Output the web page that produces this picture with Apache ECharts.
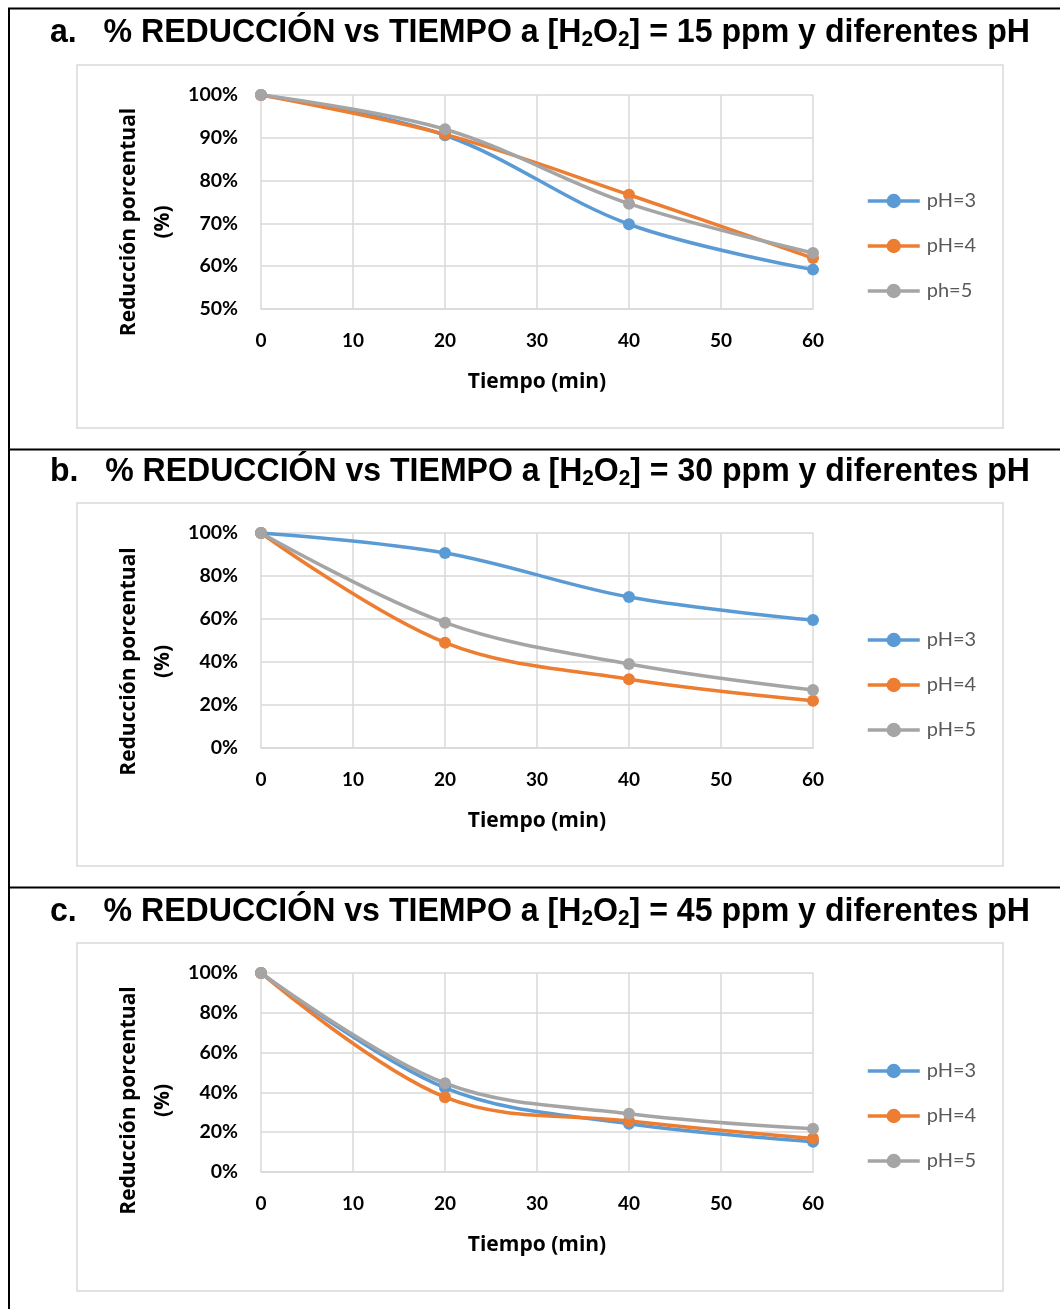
<!DOCTYPE html>
<html><head><meta charset="utf-8">
<script src="https://cdn.jsdelivr.net/npm/echarts@6/dist/echarts.min.js"></script>
<style>html,body{margin:0;padding:0;background:#fff}#c{width:1060px;height:1309px}</style>
</head><body><div id="c"></div>
<script>
// ---- data ----
const times = [0, 20, 40, 60];
const panelLetters = ['a.', 'b.', 'c.'];
const ppmValues = [15, 30, 45];
const legendNamesA = ['pH=3', 'pH=4', 'ph=5'];
const legendNamesBC = ['pH=3', 'pH=4', 'pH=5'];
const a_pH3 = [100, 90.6, 69.8, 59.2];
const a_pH4 = [100, 90.8, 76.7, 61.9];
const a_pH5 = [100, 92.0, 74.6, 63.1];
const b_pH3 = [100, 90.7, 70.2, 59.5];
const b_pH4 = [100, 49.0, 32.0, 22.0];
const b_pH5 = [100, 58.3, 39.1, 27.0];
const c_pH3 = [100, 42.3, 24.2, 15.2];
const c_pH4 = [100, 37.6, 25.6, 16.8];
const c_pH5 = [100, 44.6, 29.3, 21.7];
const yMinA = 50, yMaxA = 100, yStepA = 10;
const yMinBC = 0, yMaxBC = 100, yStepBC = 20;
const xMin = 0, xMax = 60, xStep = 10;
const xTitle = 'Tiempo (min)';
const yTitle = 'Reducción porcentual\n(%)';

// ---- layout / style ----
const colors = ['#5B9BD5', '#ED7D31', '#A5A5A5'];
const panels = [
  {grid: {left: 261, top: 95, width: 552, height: 214}, frame: [77, 65, 926, 363], titleY: 33, divider: null,
   ymin: yMinA, ymax: yMaxA, ystep: yStepA, data: [a_pH3, a_pH4, a_pH5], names: legendNamesA, legendTop: 191, yTitleDy: 20},
  {grid: {left: 261, top: 533, width: 552, height: 215}, frame: [77, 503, 926, 363], titleY: 472, divider: 449.5,
   ymin: yMinBC, ymax: yMaxBC, ystep: yStepBC, data: [b_pH3, b_pH4, b_pH5], names: legendNamesBC, legendTop: 630, yTitleDy: 21},
  {grid: {left: 261, top: 973, width: 552, height: 199}, frame: [77, 943, 926, 348], titleY: 912, divider: 887.5,
   ymin: yMinBC, ymax: yMaxBC, ystep: yStepBC, data: [c_pH3, c_pH4, c_pH5], names: legendNamesBC, legendTop: 1061, yTitleDy: 28}
];

const labelFont = 'Lato, "Open Sans", sans-serif';
const titleAxisFont = '"Open Sans", Lato, sans-serif';
const titleFont = '"Liberation Sans", Arial, sans-serif';

// measure title width to emulate condensed font
const cv = document.createElement('canvas').getContext('2d');
function w(txt, size) { cv.font = 'bold ' + size + 'px ' + titleFont; return cv.measureText(txt).width; }

const grid = [], xAxis = [], yAxis = [], series = [], legend = [], graphic = [];

// outer black lines
graphic.push({type: 'line', shape: {x1: 8, y1: 8.5, x2: 1060, y2: 8.5}, style: {stroke: '#000', lineWidth: 2}, z: 10});
graphic.push({type: 'line', shape: {x1: 9, y1: 8, x2: 9, y2: 1309}, style: {stroke: '#000', lineWidth: 2}, z: 10});

panels.forEach((p, i) => {
  grid.push(Object.assign({containLabel: false}, p.grid));
  xAxis.push({
    type: 'value', gridIndex: i, min: xMin, max: xMax, interval: xStep,
    name: xTitle, nameLocation: 'middle', nameGap: 63,
    nameTextStyle: {fontFamily: titleAxisFont, fontWeight: 'bold', fontSize: 21, color: '#000'},
    axisLine: {show: true, lineStyle: {color: '#d9d9d9', width: 1.5}},
    axisTick: {show: false},
    axisLabel: {margin: 22, fontFamily: labelFont, fontWeight: 'bold', fontSize: 19, color: '#000'},
    splitLine: {show: true, lineStyle: {color: '#d9d9d9', width: 1.5}}
  });
  yAxis.push({
    type: 'value', gridIndex: i, min: p.ymin, max: p.ymax, interval: p.ystep,
    axisLine: {show: false}, axisTick: {show: false},
    axisLabel: {margin: 23, formatter: '{value}%', fontFamily: labelFont, fontWeight: 'bold', fontSize: 19.5, color: '#000'},
    splitLine: {show: true, lineStyle: {color: '#d9d9d9', width: 1.5}}
  });
  p.data.forEach((vals, k) => {
    series.push({
      type: 'line', name: p.names[k], xAxisIndex: i, yAxisIndex: i,
      data: times.map((t, j) => [t, vals[j]]),
      smooth: 0.35, symbol: 'circle', symbolSize: 12,
      itemStyle: {color: colors[k]},
      lineStyle: {color: colors[k], width: 3.5},
      emphasis: {disabled: true}
    });
  });
  legend.push({
    orient: 'vertical', left: 866, top: p.legendTop, data: p.names, padding: 0,
    itemWidth: 52, itemHeight: 18, itemGap: 25, selectedMode: false,
    lineStyle: {width: 3.5}, itemStyle: {borderWidth: 0},
    textStyle: {fontFamily: labelFont, fontSize: 20, color: '#595959', padding: [0, 0, 0, 2]}
  });
  // chart frame
  graphic.push({type: 'rect', shape: {x: p.frame[0], y: p.frame[1], width: p.frame[2], height: p.frame[3]},
    style: {fill: '#fff', stroke: '#d9d9d9', lineWidth: 1.5}, z: -10, silent: true});
  // divider
  if (p.divider) graphic.push({type: 'line', shape: {x1: 8, y1: p.divider, x2: 1060, y2: p.divider}, style: {stroke: '#000', lineWidth: 2}, z: 10});
  // title
  const t1 = panelLetters[i] + '   % REDUCCIÓN vs TIEMPO a [H', t2 = '2', t3 = 'O', t5 = '] = ' + ppmValues[i] + ' ppm y diferentes pH';
  const tw = w(t1, 34) + w(t2, 22) * 2 + w(t3, 34) + w(t5, 34);
  const sx = 980 / tw;
  graphic.push({type: 'text', x: 50, y: p.titleY, scaleX: sx, z: 20,
    style: {text: '{m|' + t1 + '}{s|' + t2 + '}{m|' + t3 + '}{s|' + t2 + '}{m|' + t5 + '}',
      verticalAlign: 'middle', align: 'left',
      rich: {m: {fontFamily: titleFont, fontWeight: 'bold', fontSize: 34, lineHeight: 36, fill: '#000'},
             s: {fontFamily: titleFont, fontWeight: 'bold', fontSize: 22, lineHeight: 22, verticalAlign: 'bottom', fill: '#000'}}}});
  // y axis title
  graphic.push({type: 'text', x: 146, y: p.grid.top + p.grid.height / 2 + p.yTitleDy, rotation: Math.PI / 2, z: 20,
    style: {text: yTitle, align: 'center', verticalAlign: 'middle', fontFamily: titleAxisFont, fontWeight: 'bold', fontSize: 21, lineHeight: 34, fill: '#000'}});
});

const chart = echarts.init(document.getElementById('c'), null, {renderer: 'canvas'});
chart.setOption({
  backgroundColor: '#fff', animation: false,
  grid, xAxis, yAxis, series, legend, graphic
});
</script></body></html>
